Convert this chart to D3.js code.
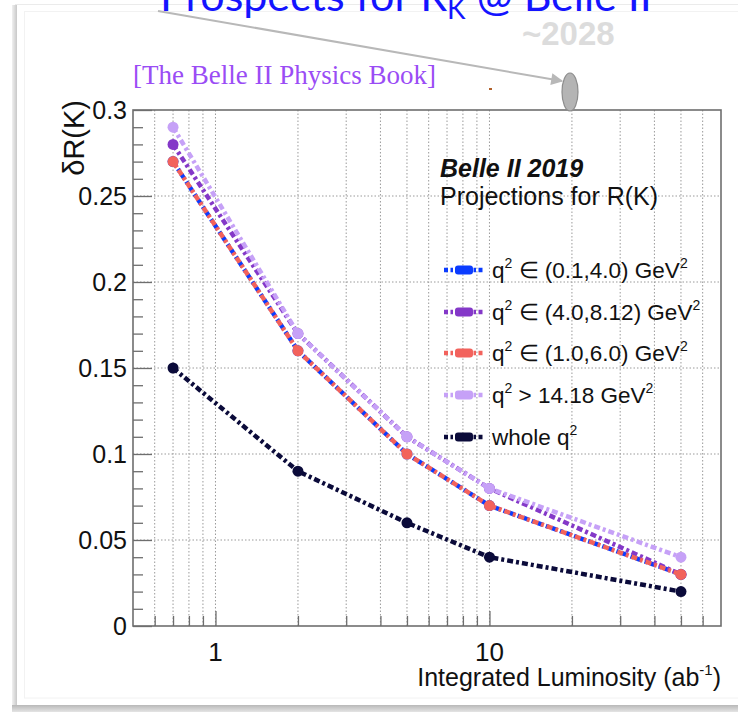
<!DOCTYPE html>
<html>
<head>
<meta charset="utf-8">
<script src="https://cdn.jsdelivr.net/npm/d3@7"></script>
<style>
  html, body { margin: 0; padding: 0; background: #ffffff; }
  svg { display: block; }
</style>
</head>
<body>
<svg id="chart" width="738" height="712"></svg>
<script>
// Integrated luminosity points (ab^-1)
const luminosity = [0.7, 2, 5, 10, 50];

// Projected uncertainty on R(K) per q^2 region
const seriesNames = [
  "q2_0.1_4.0",
  "q2_4.0_8.12",
  "q2_1.0_6.0",
  "q2_gt_14.18",
  "whole_q2"
];
const lowQ2     = [0.27, 0.16, 0.10, 0.07, 0.03];
const midQ2     = [0.28, 0.17, 0.11, 0.08, 0.03];
const centralQ2 = [0.27, 0.16, 0.10, 0.07, 0.03];
const highQ2    = [0.29, 0.17, 0.11, 0.08, 0.04];
const wholeQ2   = [0.15, 0.09, 0.06, 0.04, 0.02];

const seriesColors = ["#0b3cff", "#8438c8", "#f2625c", "#c6a1f7", "#0b0b3a"];

// Axis tick values
const yMajorTicks = [0, 0.05, 0.1, 0.15, 0.2, 0.25, 0.3];
const yTickLabels = ["0", "0.05", "0.1", "0.15", "0.2", "0.25", "0.3"];
const xMajorTicks = [1, 10];
const xTickLabels = ["1", "10"];
const xMinorTicks = [0.6, 0.7, 0.8, 0.9, 2, 3, 4, 5, 6, 7, 8, 9, 20, 30, 40, 50, 60];

const seriesValues = [lowQ2, midQ2, centralQ2, highQ2, wholeQ2];

const svg = d3.select("#chart");
const FONT = "'Liberation Sans', Arial, Helvetica, sans-serif";

// ---- slide card background with frame shadow ----
const defs = svg.append("defs");
const grad = defs.append("linearGradient").attr("id", "shadowBottom")
  .attr("x1", 0).attr("y1", 0).attr("x2", 0).attr("y2", 1);
grad.append("stop").attr("offset", "0%").attr("stop-color", "#b8b8b8");
grad.append("stop").attr("offset", "100%").attr("stop-color", "#e4e4e4");
const gradL = defs.append("linearGradient").attr("id", "shadowLeft")
  .attr("x1", 0).attr("y1", 0).attr("x2", 1).attr("y2", 0);
gradL.append("stop").attr("offset", "0%").attr("stop-color", "#f0f0f0");
gradL.append("stop").attr("offset", "100%").attr("stop-color", "#c8c8c8");

svg.append("rect").attr("x", 12).attr("y", 5).attr("width", 5).attr("height", 702)
  .attr("fill", "url(#shadowLeft)");
svg.append("rect").attr("x", 12).attr("y", 705).attr("width", 726).attr("height", 7)
  .attr("fill", "url(#shadowBottom)");
svg.append("line").attr("x1", 15).attr("x2", 738).attr("y1", 4.5).attr("y2", 4.5)
  .attr("stroke", "#ebebeb").attr("stroke-width", 1);
svg.append("rect").attr("x", 17).attr("y", 5).attr("width", 721).attr("height", 700)
  .attr("fill", "#ffffff");
svg.append("rect").attr("x", 24.5).attr("y", 11.5).attr("width", 720).attr("height", 686.5)
  .attr("fill", "none").attr("stroke", "#f2f2f2").attr("stroke-width", 1);

// ---- slide title (partly above the visible area) ----
const title = svg.append("text")
  .attr("x", 406).attr("y", 11)
  .attr("text-anchor", "middle")
  .attr("font-family", "Lato, 'Open Sans', sans-serif")
  .attr("font-size", 43)
  .attr("fill", "#1414ff");
title.append("tspan").text("Prospects for R");
title.append("tspan").attr("font-size", 28).attr("dy", 8).text("K");
title.append("tspan").attr("dy", -8).text(" @ Belle II");

svg.append("text")
  .attr("x", 522).attr("y", 45)
  .attr("font-family", FONT).attr("font-weight", "bold")
  .attr("font-size", 33).attr("fill", "#dcdcdc")
  .text("~2028");

// arrow pointing to the marker above the 2028 luminosity
defs.append("marker").attr("id", "arrowHead")
  .attr("viewBox", "0 0 10 10").attr("refX", 9).attr("refY", 5)
  .attr("markerWidth", 7).attr("markerHeight", 6).attr("orient", "auto")
  .attr("markerUnits", "strokeWidth")
  .append("path").attr("d", "M0,0 L10,5 L0,10 Z").attr("fill", "#b8b8b8");
svg.append("line")
  .attr("x1", 158).attr("y1", 11).attr("x2", 562).attr("y2", 81)
  .attr("stroke", "#b8b8b8").attr("stroke-width", 2)
  .attr("marker-end", "url(#arrowHead)");

svg.append("text")
  .attr("x", 133).attr("y", 84)
  .attr("font-family", "'Liberation Serif', 'Times New Roman', serif")
  .attr("font-size", 27).attr("fill", "#9a4cf5")
  .text("[The Belle II Physics Book]");

svg.append("rect").attr("x", 489).attr("y", 88).attr("width", 3).attr("height", 2)
  .attr("fill", "#b0602a");

// ---- plot frame ----
const frame = { left: 133, right: 721, top: 110, bottom: 626 };

const x = d3.scaleLog().domain([0.5, 70]).range([frame.left, frame.right]);
const y = d3.scaleLinear().domain([0, 0.3]).range([frame.bottom, frame.top]);

const plot = svg.append("g");

// grid: dotted lines at every x tick and every major y tick
const gridColor = "#9a9a9a";
plot.selectAll("line.vgrid")
  .data(xMinorTicks.concat(xMajorTicks))
  .enter().append("line").attr("class", "vgrid")
  .attr("x1", d => x(d)).attr("x2", d => x(d))
  .attr("y1", frame.top).attr("y2", frame.bottom)
  .attr("stroke", gridColor).attr("stroke-width", 1)
  .attr("stroke-dasharray", "1.5,2");
plot.selectAll("line.hgrid")
  .data(yMajorTicks.filter(v => v > 0 && v < 0.3))
  .enter().append("line").attr("class", "hgrid")
  .attr("x1", frame.left).attr("x2", frame.right)
  .attr("y1", d => y(d)).attr("y2", d => y(d))
  .attr("stroke", gridColor).attr("stroke-width", 1)
  .attr("stroke-dasharray", "1.5,2");

// frame box
plot.append("rect")
  .attr("x", frame.left).attr("y", frame.top)
  .attr("width", frame.right - frame.left).attr("height", frame.bottom - frame.top)
  .attr("fill", "none").attr("stroke", "#6e6e6e").attr("stroke-width", 1.6);

// y axis: ticks pointing into the frame
const yMinor = d3.range(0, 0.3001, 0.01).filter(v => Math.abs(Math.round(v * 20) - v * 20) > 1e-6);
const yAxisMajor = d3.axisRight(y).tickValues(yMajorTicks).tickSize(19).tickFormat("");
const yAxisMinor = d3.axisRight(y).tickValues(yMinor).tickSize(10).tickFormat("");
[yAxisMajor, yAxisMinor].forEach(ax => {
  const g = plot.append("g").attr("transform", `translate(${frame.left},0)`).call(ax);
  g.select(".domain").remove();
  g.selectAll("line").attr("stroke", "#6e6e6e").attr("stroke-width", 1.3);
});
plot.selectAll("text.ylab")
  .data(yMajorTicks)
  .enter().append("text").attr("class", "ylab")
  .attr("x", 127).attr("y", d => y(d) + 9)
  .attr("text-anchor", "end")
  .attr("font-family", FONT).attr("font-size", 25).attr("fill", "#111")
  .text((d, i) => yTickLabels[i]);

// x axis: ticks pointing up into the frame
const xAxisMajor = d3.axisTop(x).tickValues(xMajorTicks).tickSize(15).tickFormat("");
const xAxisMinor = d3.axisTop(x).tickValues(xMinorTicks).tickSize(10).tickFormat("");
[xAxisMajor, xAxisMinor].forEach(ax => {
  const g = plot.append("g").attr("transform", `translate(0,${frame.bottom})`).call(ax);
  g.select(".domain").remove();
  g.selectAll("line").attr("stroke", "#6e6e6e").attr("stroke-width", 1.3);
});
plot.selectAll("text.xlab")
  .data(xMajorTicks)
  .enter().append("text").attr("class", "xlab")
  .attr("x", d => x(d)).attr("y", 661)
  .attr("text-anchor", "middle")
  .attr("font-family", FONT).attr("font-size", 26).attr("fill", "#111")
  .text((d, i) => xTickLabels[i]);

// axis titles
const xTitle = svg.append("text")
  .attr("x", 721).attr("y", 686)
  .attr("text-anchor", "end")
  .attr("font-family", FONT).attr("font-size", 25).attr("fill", "#111");
xTitle.append("tspan").text("Integrated Luminosity (ab");
xTitle.append("tspan").attr("font-size", 15).attr("dy", -11).text("-1");
xTitle.append("tspan").attr("dy", 11).text(")");

svg.append("text")
  .attr("transform", "translate(84,100) rotate(-90)")
  .attr("text-anchor", "end")
  .attr("font-family", FONT).attr("font-size", 29).attr("fill", "#111")
  .text("δR(K)");

// ---- data series ----
const dash = "6,3,3,3";
const line = d3.line().x(d => x(d[0])).y(d => y(d[1]));

seriesValues.forEach((vals, i) => {
  const pts = luminosity.map((l, j) => [l, vals[j]]);
  const g = plot.append("g").attr("class", "series " + seriesNames[i]);
  g.append("path")
    .attr("d", line(pts))
    .attr("fill", "none")
    .attr("stroke", seriesColors[i])
    .attr("stroke-width", 4.5)
    .attr("stroke-dasharray", dash)
    .attr("stroke-dashoffset", i === 2 ? 5 : 0);
  g.selectAll("circle")
    .data(pts)
    .enter().append("circle")
    .attr("cx", d => x(d[0])).attr("cy", d => y(d[1]))
    .attr("r", 5.5)
    .attr("fill", seriesColors[i]);
});

// ---- legend & labels ----
svg.append("text")
  .attr("x", 440).attr("y", 177)
  .attr("font-family", FONT).attr("font-size", 25)
  .attr("font-weight", "bold").attr("font-style", "italic")
  .attr("fill", "#111")
  .text("Belle II 2019");
svg.append("text")
  .attr("x", 440).attr("y", 205)
  .attr("font-family", FONT).attr("font-size", 25)
  .attr("fill", "#111")
  .text("Projections for R(K)");

const legendLabels = [
  ["q", "2", " \u2208 (0.1,4.0) GeV", "2"],
  ["q", "2", " \u2208 (4.0,8.12) GeV", "2"],
  ["q", "2", " \u2208 (1.0,6.0) GeV", "2"],
  ["q", "2", " > 14.18 GeV", "2"],
  ["whole q", "2", "", ""]
];
const legendY = [270, 312, 353, 395, 437];

legendLabels.forEach((lab, i) => {
  const ly = legendY[i];
  const g = svg.append("g");
  g.append("line")
    .attr("x1", 444).attr("x2", 484).attr("y1", ly).attr("y2", ly)
    .attr("stroke", seriesColors[i]).attr("stroke-width", 4.5)
    .attr("stroke-dasharray", "4,2.5,2.5,2.5");
  g.append("rect")
    .attr("x", 455).attr("y", ly - 4.5).attr("width", 18).attr("height", 9)
    .attr("rx", 3)
    .attr("fill", seriesColors[i]);
  const t = g.append("text")
    .attr("x", 492).attr("y", ly + 8)
    .attr("font-family", FONT).attr("font-size", 22.5).attr("fill", "#111");
  t.append("tspan").text(lab[0]);
  t.append("tspan").attr("font-size", 14).attr("dy", -10).text(lab[1]);
  if (lab[2]) {
    t.append("tspan").attr("dy", 10).text(lab[2]);
    t.append("tspan").attr("font-size", 14).attr("dy", -10).text(lab[3]);
  }
});

// marker above the frame at the 2028 target
svg.append("ellipse")
  .attr("cx", 570).attr("cy", 92).attr("rx", 8).attr("ry", 19)
  .attr("fill", "#b4b4b4").attr("stroke", "#8c8c8c").attr("stroke-width", 1.2);
</script>
</body>
</html>
